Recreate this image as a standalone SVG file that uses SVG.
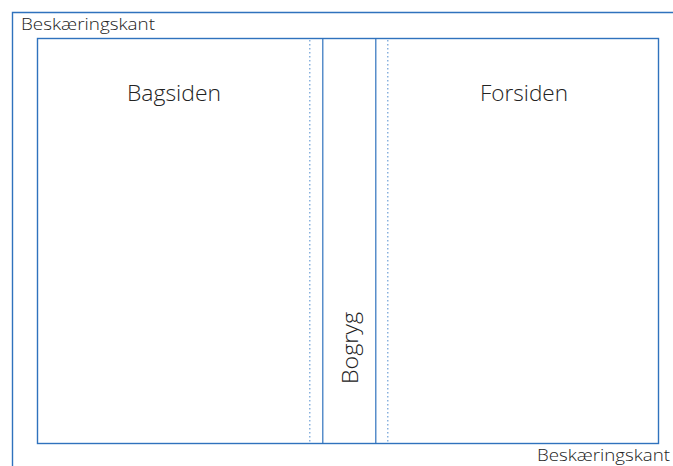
<svg xmlns="http://www.w3.org/2000/svg" width="673" height="466" viewBox="0 0 673 466">
<style>
.edge{fill:none;stroke:#2f72bd;stroke-width:1.4}
.fold{fill:none;stroke:#2f72bd;stroke-width:1.2}
.dot{fill:none;stroke:#6c9fd6;stroke-width:1.2;stroke-dasharray:1.5 2.5}
.t{font-family:"Open Sans","Noto Sans",sans-serif;font-weight:350;fill:#222}
.s{font-size:15.5px}
.l{font-size:22px}
</style>
<rect width="673" height="466" fill="#fff"/>
<g id="trim">
<path class="edge" d="M12.5 466 V12.5 H673"/>
<text class="t s" x="21" y="29.5" textLength="134" lengthAdjust="spacingAndGlyphs">Beskæringskant</text>
<text class="t s" x="537" y="461" textLength="133" lengthAdjust="spacingAndGlyphs">Beskæringskant</text>
</g>
<g id="cover">
<rect class="edge" x="37.5" y="38.5" width="621" height="405"/>
</g>
<g id="back">
<text class="t l" x="127" y="101" textLength="94" lengthAdjust="spacingAndGlyphs">Bagsiden</text>
</g>
<g id="front">
<text class="t l" x="480" y="101" textLength="88" lengthAdjust="spacingAndGlyphs">Forsiden</text>
</g>
<g id="spine">
<line class="fold" x1="322.8" y1="38.5" x2="322.8" y2="443.5"/>
<line class="fold" x1="375.8" y1="38.5" x2="375.8" y2="443.5"/>
<text class="t l" transform="translate(357.5,384) rotate(-90)" textLength="72" lengthAdjust="spacingAndGlyphs">Bogryg</text>
</g>
<g id="connectors">
<line class="dot" x1="309.8" y1="40" x2="309.8" y2="443"/>
<line class="dot" x1="387.8" y1="40" x2="387.8" y2="443"/>
</g>
</svg>
